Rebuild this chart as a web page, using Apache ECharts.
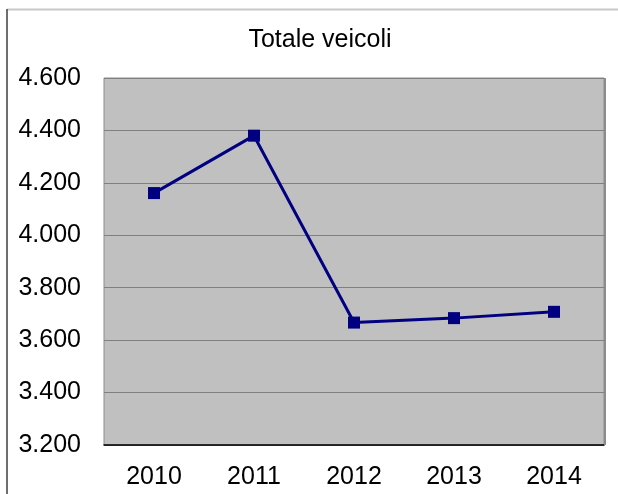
<!DOCTYPE html>
<html>
<head>
<meta charset="utf-8">
<script src="https://cdn.jsdelivr.net/npm/echarts@6/dist/echarts.min.js"></script>
<style>
  html, body { margin: 0; padding: 0; background: #fff; }
  #chart { width: 618px; height: 494px; }
</style>
</head>
<body>
<div id="chart"></div>
<script>
// dati
const years = ["2010", "2011", "2012", "2013", "2014"];
const totaleVeicoli = [4161, 4380, 3667, 3684, 3708];
const yMin = 3200;
const yMax = 4600;
const yStep = 200;

const chart = echarts.init(document.getElementById("chart"));

// separatore migliaia con il punto
function fmt(v) {
  return String(v).replace(/\B(?=(\d{3})+(?!\d))/g, ".");
}

const font = "Liberation Sans, Arial, sans-serif";

const options = {
  animation: false,
  backgroundColor: "#fff",
  textStyle: { fontFamily: font },
  title: {
    text: "Totale veicoli",
    left: 315,
    top: 23,
    textAlign: "center",
    textStyle: {
      fontFamily: font,
      fontSize: 25,
      fontWeight: "normal",
      color: "#000",
    },
  },
  // cornice esterna
  graphic: [
    {
      type: "line",
      shape: { x1: 7, y1: 9.5, x2: 618, y2: 9.5 },
      style: { stroke: "#c8c8c8", lineWidth: 2 },
    },
    {
      type: "line",
      shape: { x1: 7, y1: 9, x2: 7, y2: 494 },
      style: { stroke: "#6e6e6e", lineWidth: 2 },
    },
    // ombra a destra dell'area del grafico
    {
      type: "line",
      shape: { x1: 605, y1: 78, x2: 605, y2: 445 },
      style: { stroke: "#8c8c8c", lineWidth: 2 },
      z: 10,
    },
  ],
  grid: {
    show: true,
    left: 104,
    right: 14,
    top: 78,
    bottom: 49,
    backgroundColor: "#c0c0c0",
    borderColor: "#8c8c8c",
    borderWidth: 1,
    containLabel: false,
  },
  xAxis: {
    type: "category",
    data: years,
    boundaryGap: true,
    axisLine: { show: true, lineStyle: { color: "#000", width: 1.5 } },
    axisTick: { show: false },
    axisLabel: {
      margin: 20,
      fontSize: 25,
      color: "#000",
      fontFamily: font,
    },
  },
  yAxis: {
    type: "value",
    min: yMin,
    max: yMax,
    interval: yStep,
    axisLine: { show: false },
    axisTick: { show: false },
    splitLine: { show: true, lineStyle: { color: "#808080", width: 1 } },
    axisLabel: {
      margin: 23,
      fontSize: 25,
      color: "#000",
      fontFamily: font,
      formatter: fmt,
    },
  },
  series: [
    {
      name: "Totale veicoli",
      type: "line",
      data: totaleVeicoli,
      symbol: "rect",
      symbolSize: 12,
      itemStyle: { color: "#000080" },
      lineStyle: { color: "#000080", width: 3 },
    },
  ],
};

chart.setOption(options);
</script>
</body>
</html>
